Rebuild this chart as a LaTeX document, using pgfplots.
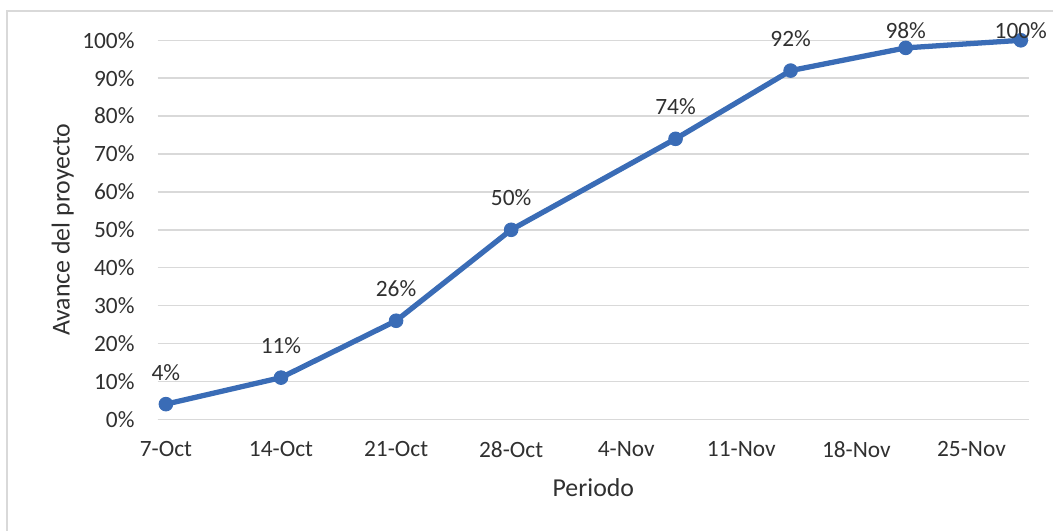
\documentclass[border=0pt]{standalone}
\usepackage{fontspec}
\setmainfont{Carlito}
\usepackage{pgfplots}
\pgfplotsset{compat=1.18}
\usepackage{pgfplotstable}

\definecolor{serie}{HTML}{3A6CB6}
\definecolor{texto}{HTML}{303030}
\definecolor{rejilla}{HTML}{D9D9D9}

% x = day since 7-Oct, y = progress (%), dy = label offset (pt)
\pgfplotstableread{
x  y    dy
0  4    18.1
7  11   18.1
14 26   18.1
21 50   18.1
31 74   18.1
38 92   18.1
45 98   9.6
52 100  5.3
}\avance

\begin{document}
\begin{tikzpicture}
\path[use as bounding box] (0,0) rectangle (21.06cm,10.62cm);
\draw[rejilla, line width=0.6pt] (0.14cm,-1cm) -- (0.14cm,10.40cm) -- (22cm,10.40cm);
\begin{axis}[
  at={(3.154cm,2.234cm)}, anchor=south west,
  scale only axis, width=17.426cm, height=7.58cm,
  xmin=-0.5, xmax=52.5, ymin=0, ymax=100,
  axis x line*=bottom, axis y line*=left,
  y axis line style={draw=none},
  x axis line style={draw=rejilla, line width=0.8pt},
  ytick={0,10,...,100},
  yticklabel={\pgfmathprintnumber{\tick}\%},
  ytick style={draw=none},
  ymajorgrids, grid style={rejilla, line width=0.8pt},
  xtick={0,7,...,49},
  xticklabels={7-Oct,14-Oct,21-Oct,28-Oct,4-Nov,11-Nov,18-Nov,25-Nov},
  major x tick style={draw=none},
  extra x ticks={-0.5,6.5,...,48.5},
  extra x tick labels={},
  extra x tick style={tick style={draw=rejilla, line width=0.8pt}, major tick length=4pt, tick align=outside, grid=none},
  /pgf/number format/assume math mode=true,
  ticklabel style={font=\fontsize{13.3}{16}\selectfont, text=texto},
  yticklabel style={anchor=east, inner sep=0pt, xshift=-13pt},
  xticklabel style={anchor=north, inner sep=0pt, yshift=-12.5pt},
  xlabel={Periodo},
  xlabel style={at={(axis description cs:0.5,0)}, anchor=north, inner sep=0pt, yshift=-33.5pt, font=\fontsize{14.7}{17}\selectfont, text=texto},
  ylabel={Avance del proyecto},
  ylabel style={at={([xshift=-54pt]axis description cs:0,0.5)}, anchor=center, rotate=0, font=\fontsize{14.7}{17}\selectfont, text=texto},
  clip=false,
]
\addplot[serie, line width=3pt, mark=*, mark size=3.9pt, mark options={fill=serie, draw=serie, line width=0.5pt},
  visualization depends on={\thisrow{dy} \as \dy},
  nodes near coords={\pgfmathprintnumber{\pgfplotspointmeta}\%},
  point meta=explicit,
  every node near coord/.append style={anchor=center, yshift=\dy pt, font=\fontsize{13.3}{16}\selectfont, text=texto, inner sep=0pt,
    /pgf/number format/assume math mode=true}]
  table[x=x, y=y, meta=y] {\avance};
\end{axis}
\end{tikzpicture}
\end{document}
